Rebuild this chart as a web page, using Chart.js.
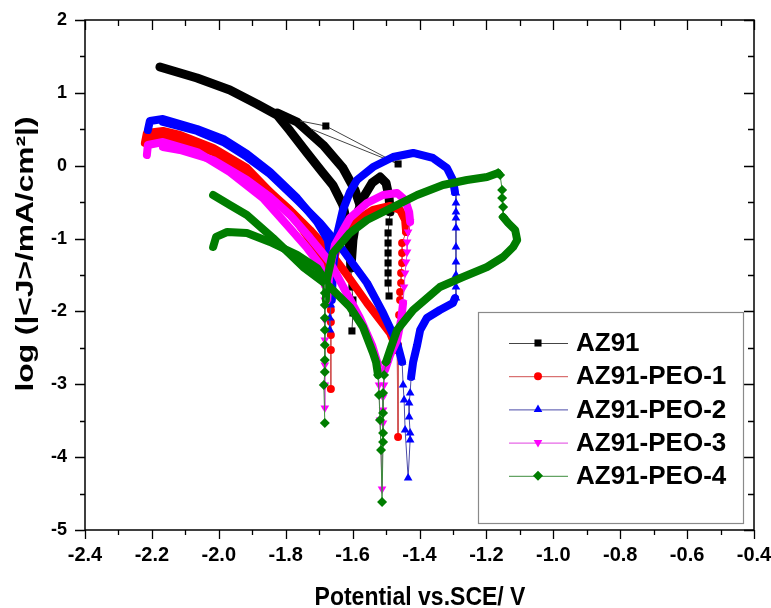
<!DOCTYPE html>
<html>
<head>
<meta charset="utf-8">
<script src="https://cdn.jsdelivr.net/npm/chart.js@4.4.1/dist/chart.umd.min.js"></script>
<style>
  html, body { margin: 0; padding: 0; background: #fff; }
  #wrap { width: 771px; height: 608px; }
</style>
</head>
<body>
<div id="wrap"><canvas id="tafel" width="771" height="608"></canvas></div>
<script>
// axis ranges and ticks
const X_MIN = -2.4, X_MAX = -0.4;
const Y_MIN = -5, Y_MAX = 2;
const xTickValues = [-2.4, -2.2, -2.0, -1.8, -1.6, -1.4, -1.2, -1.0, -0.8, -0.6, -0.4];
const yTickValues = [-5, -4, -3, -2, -1, 0, 1, 2];

const seriesNames = ['AZ91', 'AZ91-PEO-1', 'AZ91-PEO-2', 'AZ91-PEO-3', 'AZ91-PEO-4'];
const seriesColors = ['#000000', '#ff0000', '#0000ff', '#ff00ff', '#007d00'];
const thinColors = ['#444444', '#d05050', '#4a4aa8', '#e040e0', '#3c8c3c'];
const seriesMarkers = ['rect', 'circle', 'triangle', 'triangle', 'rectRot'];
const markerRotation = [0, 0, 0, 180, 0];
const markerRadius = [5, 4, 5, 5, 5];

// [E (V vs SCE), log|J|] — dense stretches of each scan
const az91Cathodic = [[-2.176,1.355],[-2.065,1.204],[-1.967,1.039],[-1.886,0.847],[-1.826,0.696],[-1.787,0.477],[-1.736,0.175],[-1.691,-0.086],[-1.659,-0.265],[-1.629,-0.539],[-1.614,-0.855],[-1.608,-1.157],[-1.605,-1.404]];
const az91Return = [[-1.826,0.724],[-1.766,0.600],[-1.688,0.284],[-1.629,-0.031],[-1.593,-0.333],[-1.578,-0.539]];
const az91Anodic = [[-1.605,-1.404],[-1.599,-1.020],[-1.587,-0.676],[-1.569,-0.443],[-1.542,-0.237],[-1.518,-0.155],[-1.500,-0.237],[-1.491,-0.429],[-1.488,-0.635]];
// sparse stretches (individual markers visible)
const az91Dip = [[-1.605,-1.404],[-1.602,-1.665],[-1.599,-1.843],[-1.599,-2.021],[-1.602,-2.268]];
const az91Hold = [[-1.488,-0.635],[-1.491,-0.772],[-1.494,-0.923],[-1.494,-1.061],[-1.494,-1.198],[-1.494,-1.335],[-1.494,-1.472],[-1.494,-1.610],[-1.491,-1.788]];
const az91Jump = [[-1.757,0.614],[-1.680,0.545],[-1.464,0.024],[-1.724,0.504]];

const peo1Cathodic = [[-2.221,0.312],[-2.215,0.449],[-2.167,0.477],[-2.116,0.422],[-2.017,0.243],[-1.916,-0.031],[-1.838,-0.402],[-1.766,-0.772],[-1.706,-1.157],[-1.677,-1.404],[-1.668,-1.637]];
const peo1Anodic = [[-1.662,-1.706],[-1.659,-1.363],[-1.647,-1.116],[-1.629,-0.923],[-1.587,-0.745],[-1.539,-0.608],[-1.488,-0.553],[-1.458,-0.608],[-1.443,-0.745],[-1.440,-0.910]];
const peo1Return = [[-1.467,-2.529],[-1.488,-2.296],[-1.557,-1.884],[-1.623,-1.459],[-1.668,-1.184],[-1.727,-0.882],[-1.787,-0.608],[-1.847,-0.361],[-1.916,-0.086],[-2.017,0.188],[-2.116,0.353],[-2.206,0.380]];
const peo1Dip = [[-1.668,-1.637],[-1.665,-1.843],[-1.665,-1.980],[-1.665,-2.145],[-1.665,-2.323],[-1.665,-2.529],[-1.665,-3.065]];
const peo1Hold = [[-1.440,-0.910],[-1.452,-1.061],[-1.452,-1.198],[-1.452,-1.335],[-1.455,-1.472],[-1.455,-1.610],[-1.458,-1.733],[-1.458,-1.843],[-1.461,-2.049],[-1.464,-2.255],[-1.464,-2.461],[-1.464,-3.723],[-1.467,-2.529]];

const peo2Cathodic = [[-2.212,0.490],[-2.206,0.614],[-2.167,0.641],[-2.065,0.504],[-1.987,0.367],[-1.916,0.161],[-1.847,-0.086],[-1.766,-0.443],[-1.706,-0.772],[-1.674,-1.020],[-1.665,-1.294],[-1.665,-1.706]];
const peo2Anodic = [[-1.662,-1.843],[-1.659,-1.431],[-1.650,-1.020],[-1.629,-0.608],[-1.608,-0.361],[-1.587,-0.196],[-1.539,-0.018],[-1.479,0.120],[-1.419,0.175],[-1.360,0.106],[-1.318,-0.031],[-1.300,-0.196],[-1.294,-0.361]];
const peo2Descent = [[-1.294,-1.816],[-1.300,-1.884],[-1.339,-1.980],[-1.378,-2.090],[-1.398,-2.255],[-1.407,-2.461],[-1.419,-2.694],[-1.425,-2.900]];
const peo2Return = [[-1.452,-2.694],[-1.467,-2.433],[-1.509,-2.021],[-1.557,-1.610],[-1.629,-1.157],[-1.697,-0.786],[-1.766,-0.470],[-1.847,-0.114],[-1.916,0.120],[-1.987,0.326],[-2.065,0.477],[-2.167,0.600]];
const peo2Dip = [[-1.665,-1.706],[-1.665,-1.912],[-1.668,-2.090],[-1.668,-2.255]];
const peo2Hold = [[-1.294,-0.361],[-1.291,-0.374],[-1.291,-0.512],[-1.291,-0.635],[-1.291,-0.718],[-1.291,-0.855],[-1.291,-1.116],[-1.291,-1.321],[-1.291,-1.500],[-1.291,-1.665],[-1.291,-1.816]];
const peo2Dip2 = [[-1.425,-2.900],[-1.428,-3.119],[-1.431,-3.257],[-1.431,-3.449],[-1.428,-3.669],[-1.428,-3.764],[-1.434,-4.286],[-1.443,-3.627],[-1.446,-3.216],[-1.449,-3.010],[-1.452,-2.694]];

const peo3Cathodic = [[-2.215,0.147],[-2.212,0.284],[-2.167,0.326],[-2.065,0.188],[-1.967,-0.086],[-1.868,-0.443],[-1.796,-0.814],[-1.736,-1.129],[-1.697,-1.363],[-1.683,-1.637]];
const peo3Anodic = [[-1.677,-1.843],[-1.668,-1.431],[-1.653,-1.088],[-1.608,-0.718],[-1.557,-0.512],[-1.509,-0.402],[-1.467,-0.374],[-1.443,-0.470],[-1.431,-0.635],[-1.428,-0.772]];
const peo3Descent = [[-1.449,-1.884],[-1.455,-2.117],[-1.467,-2.392],[-1.488,-2.598],[-1.503,-2.804]];
const peo3Return = [[-1.524,-2.735],[-1.542,-2.461],[-1.578,-2.090],[-1.623,-1.706],[-1.668,-1.321],[-1.727,-0.992],[-1.787,-0.676],[-1.847,-0.429],[-1.916,-0.196],[-2.017,0.079],[-2.116,0.216],[-2.167,0.257]];
const peo3Dip = [[-1.683,-1.637],[-1.683,-1.843],[-1.683,-2.117],[-1.683,-2.392],[-1.683,-2.735],[-1.683,-3.010],[-1.683,-3.325]];
const peo3Hold = [[-1.428,-0.772],[-1.434,-0.910],[-1.437,-1.047],[-1.437,-1.184],[-1.440,-1.321],[-1.443,-1.472],[-1.446,-1.665],[-1.449,-1.884]];
const peo3Dip2 = [[-1.503,-2.804],[-1.506,-3.010],[-1.509,-3.174],[-1.509,-3.353],[-1.509,-3.531],[-1.512,-4.437],[-1.518,-3.490],[-1.521,-3.010],[-1.524,-2.735]];

const peo4Cathodic = [[-2.017,-1.116],[-2.008,-0.978],[-1.975,-0.910],[-1.916,-0.923],[-1.847,-1.047],[-1.766,-1.225],[-1.706,-1.404],[-1.683,-1.568]];
const peo4Anodic = [[-1.680,-1.843],[-1.677,-1.568],[-1.659,-1.198],[-1.608,-0.923],[-1.557,-0.745],[-1.479,-0.567],[-1.407,-0.402],[-1.330,-0.265],[-1.258,-0.196],[-1.198,-0.155],[-1.165,-0.100]];
const peo4Descent = [[-1.150,-0.704],[-1.135,-0.786],[-1.114,-0.882],[-1.108,-1.020],[-1.120,-1.116],[-1.150,-1.253],[-1.198,-1.390],[-1.270,-1.527],[-1.339,-1.665],[-1.419,-1.980],[-1.467,-2.255],[-1.488,-2.529],[-1.500,-2.694]];
const peo4Return = [[-1.524,-2.872],[-1.530,-2.694],[-1.539,-2.570],[-1.569,-2.214],[-1.608,-1.939],[-1.668,-1.665],[-1.748,-1.390],[-1.838,-0.992],[-1.916,-0.676],[-1.967,-0.539],[-2.017,-0.402]];
const peo4Dip = [[-1.683,-1.568],[-1.683,-1.747],[-1.683,-1.912],[-1.683,-2.090],[-1.683,-2.255],[-1.683,-2.461],[-1.683,-2.666],[-1.683,-2.831],[-1.686,-3.010],[-1.683,-3.531]];
const peo4Hold = [[-1.165,-0.100],[-1.159,-0.127],[-1.153,-0.333],[-1.153,-0.443],[-1.150,-0.567],[-1.150,-0.704]];
const peo4Dip2 = [[-1.500,-2.694],[-1.506,-2.872],[-1.509,-3.119],[-1.509,-3.394],[-1.509,-3.669],[-1.509,-3.792],[-1.512,-4.615],[-1.515,-3.902],[-1.518,-3.490],[-1.521,-3.147],[-1.524,-2.872]];

// which stretch belongs to which sample, and whether it is dense
const traces = [
  { s: 0, pts: az91Cathodic, dense: true }, { s: 0, pts: az91Return, dense: true }, { s: 0, pts: az91Anodic, dense: true },
  { s: 0, pts: az91Dip }, { s: 0, pts: az91Hold }, { s: 0, pts: az91Jump, radii: [0, 5, 5, 0] },
  { s: 1, pts: peo1Cathodic, dense: true }, { s: 1, pts: peo1Anodic, dense: true }, { s: 1, pts: peo1Return, dense: true },
  { s: 1, pts: peo1Dip }, { s: 1, pts: peo1Hold },
  { s: 2, pts: peo2Cathodic, dense: true }, { s: 2, pts: peo2Anodic, dense: true }, { s: 2, pts: peo2Descent, dense: true }, { s: 2, pts: peo2Return, dense: true },
  { s: 2, pts: peo2Dip }, { s: 2, pts: peo2Hold }, { s: 2, pts: peo2Dip2 },
  { s: 3, pts: peo3Cathodic, dense: true }, { s: 3, pts: peo3Anodic, dense: true }, { s: 3, pts: peo3Descent, dense: true }, { s: 3, pts: peo3Return, dense: true },
  { s: 3, pts: peo3Dip }, { s: 3, pts: peo3Hold }, { s: 3, pts: peo3Dip2 },
  { s: 4, pts: peo4Cathodic, dense: true }, { s: 4, pts: peo4Anodic, dense: true }, { s: 4, pts: peo4Descent, dense: true }, { s: 4, pts: peo4Return, dense: true },
  { s: 4, pts: peo4Dip }, { s: 4, pts: peo4Hold }, { s: 4, pts: peo4Dip2 }
];

const FONT = '"Liberation Sans", Arial, sans-serif';

function toXY(pts) {
  return pts.map(([x, y]) => ({ x, y }));
}

const datasets = traces.map(t => {
  const c = seriesColors[t.s];
  if (t.dense) {
    // thousands of overlapping symbols read as a thick band
    return {
      data: toXY(t.pts), showLine: true, borderColor: c, borderWidth: t.s === 0 ? 9 : 8,
      borderCapStyle: 'round', borderJoinStyle: 'round', pointRadius: 0,
      order: (4 - t.s) * 2 + 1
    };
  }
  return {
    data: toXY(t.pts), showLine: true, borderColor: thinColors[t.s], borderWidth: 1,
    pointStyle: seriesMarkers[t.s], rotation: markerRotation[t.s],
    pointRadius: t.radii || markerRadius[t.s], pointBorderWidth: 0,
    pointBackgroundColor: c, pointBorderColor: c,
    order: (4 - t.s) * 2
  };
});

// box frame, with inward ticks on top/right and outward ticks on bottom/left
const frameTicks = {
  id: 'frameTicks',
  afterDatasetsDraw(chart) {
    const { ctx, chartArea: a, scales: { x, y } } = chart;
    ctx.save();
    ctx.strokeStyle = '#000';
    ctx.lineWidth = 1.5;
    ctx.strokeRect(a.left, a.top, a.right - a.left, a.bottom - a.top);
    ctx.lineWidth = 1.3;
    ctx.beginPath();
    for (let i = 0; i <= 20; i++) {
      const px = Math.round(x.getPixelForValue(X_MIN + i * 0.1)) + 0.5;
      const major = i % 2 === 0;
      ctx.moveTo(px, a.bottom); ctx.lineTo(px, a.bottom + (major ? 9 : 5));
      ctx.moveTo(px, a.top); ctx.lineTo(px, a.top + (major ? 10 : 6));
    }
    for (let i = 0; i <= 14; i++) {
      const py = Math.round(y.getPixelForValue(Y_MIN + i * 0.5)) + 0.5;
      const major = i % 2 === 0;
      ctx.moveTo(a.left - (major ? 10 : 5), py); ctx.lineTo(a.left, py);
      ctx.moveTo(a.right - (major ? 10 : 6), py); ctx.lineTo(a.right, py);
    }
    ctx.stroke();
    ctx.restore();
  }
};

// legend in the lower right corner: line sample with its symbol, then the name
const boxLegend = {
  id: 'boxLegend',
  afterDraw(chart) {
    const ctx = chart.ctx;
    ctx.save();
    ctx.fillStyle = '#fff';
    ctx.fillRect(478, 312, 265, 211);
    ctx.strokeStyle = '#8a8a8a';
    ctx.lineWidth = 1.2;
    ctx.strokeRect(478.5, 312.5, 265, 211);
    ctx.font = 'bold 26px ' + FONT;
    ctx.textBaseline = 'middle';
    seriesNames.forEach((name, i) => {
      const yRow = 343 + i * 33.2;
      ctx.strokeStyle = thinColors[i];
      ctx.lineWidth = 1;
      ctx.beginPath();
      ctx.moveTo(509, yRow + 0.5); ctx.lineTo(568, yRow + 0.5);
      ctx.stroke();
      ctx.fillStyle = seriesColors[i];
      Chart.helpers.drawPoint(ctx, {
        pointStyle: seriesMarkers[i], radius: markerRadius[i],
        rotation: markerRotation[i], borderWidth: 0
      }, 538, yRow);
      ctx.fillStyle = '#000';
      ctx.fillText(name, 576, yRow + 1);
    });
    ctx.restore();
  }
};

// axis titles
const axisTitles = {
  id: 'axisTitles',
  afterDraw(chart) {
    const ctx = chart.ctx;
    ctx.save();
    ctx.fillStyle = '#000';
    ctx.font = 'bold 23px ' + FONT;
    ctx.textAlign = 'center';
    ctx.textBaseline = 'alphabetic';
    ctx.save();
    ctx.translate(420, 605);
    ctx.scale(1, 1.12);
    ctx.fillText('Potential vs.SCE/ V', 0, 0);
    ctx.restore();

    const yTitle = 'log (|<J>/mA/cm\u00B2|)';
    ctx.font = 'bold 24px ' + FONT;
    const w = ctx.measureText(yTitle).width;
    ctx.translate(26, 254);
    ctx.rotate(-Math.PI / 2);
    ctx.scale(275 / w, 1);
    ctx.textBaseline = 'middle';
    ctx.fillText(yTitle, 0, 0);
    ctx.restore();
  }
};

new Chart(document.getElementById('tafel'), {
  type: 'scatter',
  data: { datasets },
  options: {
    responsive: false,
    animation: false,
    devicePixelRatio: 1,
    events: [],
    layout: { padding: { left: 0, top: 20, right: 17, bottom: 0 } },
    plugins: { legend: { display: false }, tooltip: { enabled: false } },
    scales: {
      x: {
        type: 'linear', min: X_MIN, max: X_MAX,
        grid: { display: false, drawTicks: false },
        border: { display: false },
        ticks: {
          color: '#000', padding: 13,
          font: { family: FONT, size: 20, weight: 'bold' },
          maxRotation: 0, autoSkip: false,
          callback: v => v.toFixed(1)
        },
        afterBuildTicks: s => { s.ticks = xTickValues.map(v => ({ value: v })); },
        afterFit: s => { s.height = 78; s.paddingLeft = 0; s.paddingRight = 0; }
      },
      y: {
        type: 'linear', min: Y_MIN, max: Y_MAX,
        grid: { display: false, drawTicks: false },
        border: { display: false },
        ticks: {
          color: '#000', padding: 18,
          font: { family: FONT, size: 18, weight: 'bold' },
          autoSkip: false,
          callback: v => String(v)
        },
        afterBuildTicks: s => { s.ticks = yTickValues.map(v => ({ value: v })); },
        afterFit: s => { s.width = 85; s.paddingTop = 0; s.paddingBottom = 0; }
      }
    }
  },
  plugins: [frameTicks, boxLegend, axisTitles]
});
</script>
</body>
</html>
